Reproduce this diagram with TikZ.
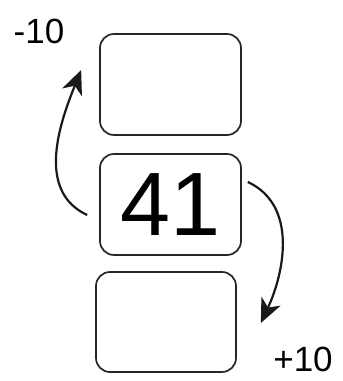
\documentclass[tikz,border=0pt]{standalone}
\usepackage{fontspec}
\setmainfont{Liberation Sans}
\usepackage{tikz}
\usetikzlibrary{arrows.meta,positioning}

\begin{document}
\begin{tikzpicture}[
    x=1pt, y=1pt,
    numbox/.style={rectangle, draw=black!85, fill=white, rounded corners=14pt, minimum width=141pt, minimum height=101pt, line width=1.7pt, inner sep=0pt},
    steplabel/.style={font=\fontsize{35}{38}\selectfont, inner sep=0pt},
    arrow/.style={-{Stealth[length=24pt, width=21pt, inset=7pt]}, line width=2.2pt, color=black!90}
]
\useasboundingbox (0,0) rectangle (343,381);

% Boxes
\node[numbox] (mid) at (170.5,176.5) {\fontsize{90}{94}\selectfont 41};
\node[numbox] (top) at (170.5,296.5) {};
\node[numbox, minimum width=140pt, minimum height=100pt] (bot) at (166,59) {};

% Labels
\node[steplabel] (minus) at (39,350) {-10};
\node[steplabel] (plus) at (303,22) {+10};

% Connections
\draw[arrow] ([xshift=-12pt, yshift=-10.5pt]mid.west) to[out=155, in=-112] ([xshift=-18pt, yshift=14.5pt]top.west);
\draw[arrow] ([xshift=6pt, yshift=22.5pt]mid.east) to[out=-25, in=65] ([xshift=24pt, yshift=-1pt]bot.east);

\end{tikzpicture}
\end{document}
